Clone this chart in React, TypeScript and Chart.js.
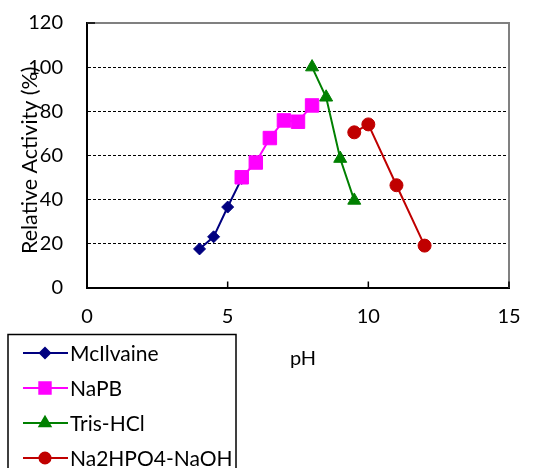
import React, { useEffect, useRef } from 'react';
import { Chart, registerables } from 'chart.js';
import { drawPoint } from 'chart.js/helpers';

Chart.register(...registerables);

const seriesNames = ['McIlvaine', 'NaPB', 'Tris-HCl', 'Na2HPO4-NaOH'];
const seriesColors = ['#000080', '#FF00FF', '#008000', '#C00000'];
const seriesMarkers = ['rectRot', 'rect', 'triangle', 'circle'];
const seriesRadius = [6, 9.5, 7.5, 6.5];

const mcilvainePH = [4, 4.5, 5, 5.5];
const mcilvaineAct = [17.5, 23, 36.5, 49.5];
const napbPH = [5.5, 6, 6.5, 7, 7.5, 8];
const napbAct = [50, 56.7, 67.8, 75.8, 75.2, 82.6];
const trisPH = [8, 8.5, 9, 9.5];
const trisAct = [100, 86.3, 58.5, 39.5];
const naohPH = [9.5, 10, 11, 12];
const naohAct = [70.4, 74, 46.4, 19];

const xTicks = [0, 5, 10, 15];
const yTicks = [0, 20, 40, 60, 80, 100, 120];

const xTitle = 'pH';
const yTitle = 'Relative Activity (%)';

const FONT = 'Lato, "Open Sans", sans-serif';

const pairs = (xs: number[], ys: number[]) => xs.map((x, i) => ({ x, y: ys[i] }));

export default function App() {
  const ref = useRef<HTMLCanvasElement | null>(null);

  useEffect(() => {
    if (!ref.current) return;
    const allData = [
      pairs(mcilvainePH, mcilvaineAct),
      pairs(napbPH, napbAct),
      pairs(trisPH, trisAct),
      pairs(naohPH, naohAct),
    ];

    const overlay = {
      id: 'overlay',
      beforeDatasetsDraw(chart: any) {
        const { ctx, chartArea: a } = chart;
        ctx.save();
        ctx.strokeStyle = '#808080';
        ctx.lineWidth = 2;
        ctx.beginPath();
        ctx.moveTo(a.left, a.top);
        ctx.lineTo(a.right, a.top);
        ctx.lineTo(a.right, a.bottom);
        ctx.stroke();
        const xs = chart.scales.x;
        ctx.strokeStyle = '#000';
        ctx.lineWidth = 1.5;
        xTicks.slice(1).forEach((v) => {
          const px = xs.getPixelForValue(v);
          ctx.beginPath();
          ctx.moveTo(px, a.bottom);
          ctx.lineTo(px, a.bottom - 6);
          ctx.stroke();
        });
        const ys = chart.scales.y;
        const py = ys.getPixelForValue(yTicks[yTicks.length - 1]);
        ctx.beginPath();
        ctx.moveTo(a.left, py);
        ctx.lineTo(a.left + 8, py);
        ctx.stroke();
        ctx.restore();
      },
      afterDraw(chart: any) {
        const { ctx, chartArea: a } = chart;
        ctx.save();
        ctx.fillStyle = '#000';
        ctx.font = `21.5px ${FONT}`;
        ctx.save();
        ctx.translate(30, (a.top + a.bottom) / 2 + 5);
        ctx.rotate(-Math.PI / 2);
        ctx.textAlign = 'center';
        ctx.textBaseline = 'middle';
        ctx.fillText(yTitle, 0, 0);
        ctx.restore();
        ctx.font = `20px ${FONT}`;
        ctx.textAlign = 'center';
        ctx.textBaseline = 'middle';
        ctx.fillText(xTitle, 303, 359);

        ctx.strokeStyle = '#000';
        ctx.lineWidth = 1.5;
        ctx.strokeRect(8, 334.5, 228, 160);
        ctx.font = `21px ${FONT}`;
        ctx.textAlign = 'left';
        seriesNames.forEach((name, i) => {
          const cy = 353 + i * 35;
          ctx.strokeStyle = seriesColors[i];
          ctx.lineWidth = 2;
          ctx.beginPath();
          ctx.moveTo(23, cy);
          ctx.lineTo(68, cy);
          ctx.stroke();
          ctx.fillStyle = seriesColors[i];
          drawPoint(ctx, {
            pointStyle: seriesMarkers[i],
            radius: seriesRadius[i] * 0.85,
            rotation: 0,
            borderWidth: 1,
          } as any, 45, cy);
          ctx.fillStyle = '#000';
          ctx.fillText(name, 70, cy + 1);
        });
        ctx.restore();
      },
    };

    const chart = new Chart(ref.current, {
      type: 'scatter',
      data: {
        datasets: seriesNames.map((name, i) => ({
          label: name,
          data: allData[i],
          order: seriesNames.length - i,
          showLine: true,
          borderColor: seriesColors[i],
          backgroundColor: seriesColors[i],
          borderWidth: 2,
          pointStyle: seriesMarkers[i] as any,
          pointRadius: seriesRadius[i],
          pointBorderWidth: 1,
          pointBorderColor: seriesColors[i],
          pointBackgroundColor: seriesColors[i],
        })),
      },
      options: {
        animation: false,
        responsive: true,
        maintainAspectRatio: false,
        layout: { padding: { left: 0, right: 36, top: 23, bottom: 0 } },
        plugins: { legend: { display: false }, tooltip: { enabled: false } },
        scales: {
          x: {
            type: 'linear',
            min: 0,
            max: 15,
            afterFit: (s: any) => { s.height = 180.5; },
            afterBuildTicks: (s: any) => { s.ticks = xTicks.map((v) => ({ value: v })); },
            grid: { display: false, drawTicks: false },
            border: { display: true, color: '#000', width: 2 },
            ticks: { font: { family: FONT, size: 20 }, color: '#000', padding: 17, maxRotation: 0 },
          },
          y: {
            type: 'linear',
            min: 0,
            max: 120,
            afterFit: (s: any) => { s.width = 87; },
            afterBuildTicks: (s: any) => { s.ticks = yTicks.map((v) => ({ value: v })); },
            grid: {
              drawTicks: true,
              tickLength: 24,
              tickColor: 'rgba(0,0,0,0)',
              lineWidth: 1,
              color: (c: any) => (c.tick && (c.tick.value === 0 || c.tick.value === 120) ? 'rgba(0,0,0,0)' : '#000'),
            },
            border: { display: true, color: '#000', width: 2, dash: [3, 2] },
            ticks: { font: { family: FONT, size: 20 }, color: '#000', padding: 0 },
          },
        },
      },
      plugins: [overlay],
    });
    return () => chart.destroy();
  }, []);

  return (
    <div style={{ position: 'fixed', left: 0, top: 0, width: 545, height: 468, background: '#fff' }}>
      <canvas ref={ref} />
    </div>
  );
}
